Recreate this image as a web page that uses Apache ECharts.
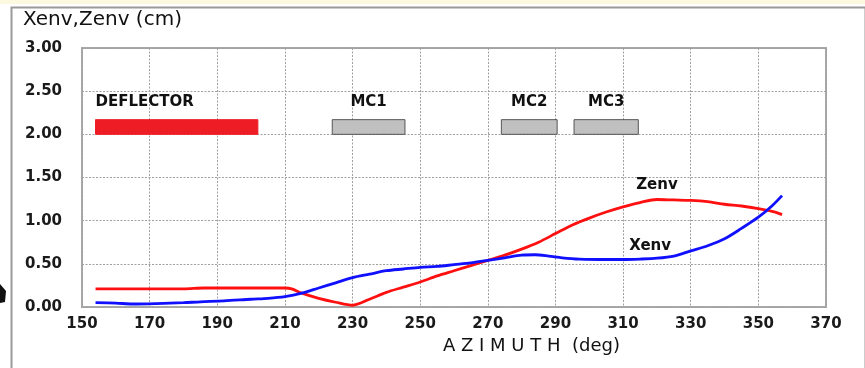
<!DOCTYPE html>
<html><head><meta charset="utf-8">
<script src="https://cdn.jsdelivr.net/npm/echarts@6/dist/echarts.min.js"></script>
<style>html,body{margin:0;padding:0;background:#fff;}#c{width:865px;height:368px;}</style>
</head><body><div id="c"></div>
<script>
// ---- data ----
const xTicks = [150,170,190,210,230,250,270,290,310,330,350,370];
const yTicks = [0.00,0.50,1.00,1.50,2.00,2.50,3.00];

const zenvX = [154,160,170,180,186,195,205,210,212,215,220,225,230,235,240,245,250,255,260,265,270,275,280,285,290,295,300,305,310,315,320,325,330,335,340,345,350,355,357];
const zenvY = [0.21,0.21,0.21,0.21,0.22,0.22,0.22,0.22,0.21,0.16,0.10,0.055,0.02,0.09,0.17,0.23,0.29,0.36,0.42,0.48,0.54,0.60,0.67,0.75,0.85,0.95,1.03,1.10,1.16,1.21,1.245,1.24,1.235,1.22,1.19,1.17,1.14,1.10,1.07];

const xenvX = [154,160,165,172,180,185,192,200,205,210,215,220,225,230,235,240,245,250,255,260,265,270,275,280,284,288,292,297,305,310,315,320,325,330,335,340,345,350,354,357];
const xenvY = [0.05,0.045,0.035,0.04,0.05,0.06,0.07,0.09,0.10,0.12,0.16,0.22,0.28,0.34,0.38,0.42,0.44,0.46,0.47,0.49,0.51,0.54,0.57,0.60,0.605,0.59,0.57,0.555,0.55,0.55,0.555,0.565,0.59,0.65,0.71,0.79,0.91,1.04,1.17,1.29];

const elemNames = ['DEFLECTOR','MC1','MC2','MC3'];
const elemStart = [154,224,274,295.5];
const elemEnd   = [202,245.5,290.5,314.5];
const elemLow = 2.00, elemHigh = 2.17, elemLabelVal = 2.37;

const curveLabels = ['Zenv','Xenv'];
const curveLabelX = [320,318];
const curveLabelY = [1.41,0.70];

// ---- chart ----
const chart = echarts.init(document.getElementById('c'));
const zenv = zenvX.map((x,i)=>[x,zenvY[i]]);
const xenv = xenvX.map((x,i)=>[x,xenvY[i]]);
const elems = elemNames.map((n,i)=>[elemStart[i],elemEnd[i],elemLow,elemHigh,i]);
const labs = curveLabels.map((n,i)=>[curveLabelX[i],curveLabelY[i],i]);
const FONT = 'DejaVu Sans';

chart.setOption({
  animation:false,
  backgroundColor:'#fff',
  grid:{left:82,right:39,top:48,bottom:61,show:true,borderColor:'#a8a8a8',borderWidth:2,backgroundColor:'transparent'},
  xAxis:{type:'value',min:150,max:370,interval:20,
    axisLine:{show:false},axisTick:{show:false},
    axisLabel:{margin:10,fontFamily:FONT,fontWeight:'bold',fontSize:15,color:'#1a1a1a',
      formatter:v=>xTicks.includes(v)?String(v):''},
    splitLine:{show:true,lineStyle:{color:'#a0a0a0',type:[2,1.5],width:1}}},
  yAxis:{type:'value',min:0,max:3,interval:0.5,
    axisLine:{show:false},axisTick:{show:false},
    axisLabel:{margin:20,fontFamily:FONT,fontWeight:'bold',fontSize:15,color:'#1a1a1a',
      formatter:v=>v.toFixed(2)},
    splitLine:{show:true,lineStyle:{color:'#a0a0a0',type:[2,1.5],width:1}}},
  graphic:[
    {type:'rect',left:0,top:0,shape:{width:865,height:4},style:{fill:'#fdf9e0'},silent:true,z:-1},
    {type:'rect',left:9,top:5,shape:{x:0,y:0,width:854,height:380},style:{fill:'none',stroke:'#9a9a9a',lineWidth:2},silent:true},
    {type:'polygon',shape:{points:[[0,284],[6,291],[5,302],[0,303]]},style:{fill:'#111'},silent:true},
    {type:'text',left:23,top:10,style:{text:'Xenv,Zenv (cm)',font:'20px "DejaVu Sans"',fill:'#111'}},
    {type:'text',left:443,top:337,style:{text:'A Z I M U T H  (deg)',font:'18px "DejaVu Sans"',fill:'#111'}}
  ],
  series:[
    {type:'line',data:zenv,showSymbol:false,smooth:0.3,lineStyle:{color:'#ff1010',width:2.8},z:3},
    {type:'line',data:xenv,showSymbol:false,smooth:0.3,lineStyle:{color:'#1010ff',width:2.8},z:4},
    {type:'custom',data:elems,z:5,
      renderItem:(params,api)=>{
        const p0=api.coord([api.value(0),api.value(3)]);
        const p1=api.coord([api.value(1),api.value(2)]);
        const i=api.value(4);
        const isDef = i===0;
        const lp = api.coord([isDef?api.value(0):(api.value(0)+api.value(1))/2, elemLabelVal]);
        return {type:'group',children:[
          {type:'rect',shape:{x:p0[0],y:p0[1],width:p1[0]-p0[0],height:p1[1]-p0[1]},
            style:{fill:isDef?'#ee1c25':'#c0c0c0',stroke:isDef?'#ee1c25':'#555',lineWidth:1}},
          {type:'text',x:lp[0],y:lp[1],style:{text:elemNames[i],font:'bold 15px "DejaVu Sans"',fill:'#111',
            align:isDef?'left':'center',verticalAlign:'middle'}}
        ]};
      }},
    {type:'custom',data:labs,z:6,
      renderItem:(params,api)=>{
        const p=api.coord([api.value(0),api.value(1)]);
        return {type:'text',x:p[0],y:p[1],style:{text:curveLabels[api.value(2)],font:'bold 15px "DejaVu Sans"',fill:'#111',align:'center',verticalAlign:'middle'}};
      }}
  ]
});
</script></body></html>
